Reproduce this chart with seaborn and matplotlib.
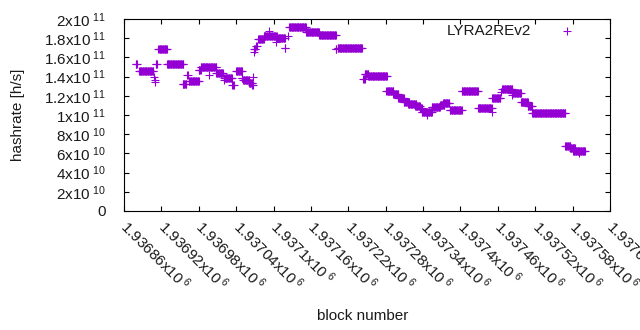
import numpy as np
import pandas as pd
import matplotlib
matplotlib.use("Agg")
import matplotlib.pyplot as plt
import matplotlib.transforms as mtransforms
import seaborn as sns

# ---- data: runs of constant hashrate per block (start block, end block, value [1e11 h/s]) ----
run_start = [1936879, 1936884, 1936908, 1936909, 1936910, 1936911, 1936915, 1936929,
             1936954, 1936961, 1936964, 1936980, 1936983, 1936996, 1937008, 1937020,
             1937021, 1937034, 1937040, 1937049, 1937051, 1937061, 1937066, 1937067,
             1937068, 1937069, 1937072, 1937075, 1937084, 1937093, 1937094, 1937104,
             1937105, 1937118, 1937123, 1937125, 1937152, 1937173, 1937200, 1937203,
             1937244, 1937246, 1937252, 1937281, 1937292, 1937300, 1937309, 1937316,
             1937327, 1937335, 1937338, 1937346, 1937354, 1937367, 1937372, 1937383,
             1937402, 1937428, 1937450, 1937451, 1937465, 1937467, 1937482, 1937483,
             1937497, 1937508, 1937515, 1937568, 1937576, 1937581, 1937591]
run_end = [1936881, 1936907, 1936908, 1936909, 1936910, 1936913, 1936929, 1936955,
           1936960, 1936962, 1936980, 1936983, 1937008, 1936996, 1937019, 1937020,
           1937033, 1937036, 1937049, 1937050, 1937061, 1937066, 1937067, 1937067,
           1937068, 1937071, 1937073, 1937084, 1937092, 1937093, 1937105, 1937104,
           1937118, 1937119, 1937123, 1937152, 1937173, 1937200, 1937201, 1937242,
           1937246, 1937252, 1937282, 1937292, 1937300, 1937309, 1937318, 1937329,
           1937335, 1937338, 1937354, 1937346, 1937367, 1937374, 1937382, 1937402,
           1937428, 1937450, 1937450, 1937464, 1937465, 1937483, 1937482, 1937497,
           1937508, 1937515, 1937568, 1937576, 1937584, 1937600, 1937591]
run_value = [1.53, 1.46, 1.40, 1.365, 1.34, 1.53, 1.685, 1.53,
             1.32, 1.42, 1.355, 1.47, 1.495, 1.42, 1.44, 1.36,
             1.385, 1.31, 1.46, 1.39, 1.365, 1.33, 1.31, 1.40,
             1.66, 1.69, 1.72, 1.79, 1.82, 1.875, 1.82, 1.76,
             1.80, 1.70, 1.82, 1.915, 1.865, 1.833, 1.69, 1.703,
             1.38, 1.43, 1.41, 1.25, 1.215, 1.177, 1.14, 1.115,
             1.094, 1.07, 1.031, 1.00, 1.08, 1.10, 1.12, 1.052,
             1.25, 1.068, 1.03, 1.177, 1.24, 1.276, 1.21, 1.224,
             1.14, 1.09, 1.026, 0.682, 0.66, 0.63, 0.60]

x_ticks = [1936860, 1936920, 1936980, 1937040, 1937100, 1937160, 1937220,
           1937280, 1937340, 1937400, 1937460, 1937520, 1937580, 1937640]
x_ticklabels = ["1.93686", "1.93692", "1.93698", "1.93704", "1.9371", "1.93716", "1.93722",
                "1.93728", "1.93734", "1.9374", "1.93746", "1.93752", "1.93758", "1.93764"]
y_ticks = [0, 2e10, 4e10, 6e10, 8e10, 1e11, 1.2e11, 1.4e11, 1.6e11, 1.8e11, 2e11]
y_mant = ["0", "2", "4", "6", "8", "1", "1.2", "1.4", "1.6", "1.8", "2"]
y_exp = [None, "10", "10", "10", "10", "11", "11", "11", "11", "11", "11"]

series_name = "LYRA2REv2"
color = "#9400D3"

# expand runs into per-block points
blocks, values = [], []
for s, e, v in zip(run_start, run_end, run_value):
    for b in range(s, e + 1):
        blocks.append(b)
        values.append(v * 1e11)
df = pd.DataFrame({"block": blocks, "hashrate": values})

sns.set_style("white")
plt.rcParams["font.family"] = ["Liberation Sans", "DejaVu Sans"]
plt.rcParams["mathtext.fontset"] = "custom"
plt.rcParams["mathtext.rm"] = "Liberation Sans"
plt.rcParams["mathtext.it"] = "Liberation Sans"
plt.rcParams["mathtext.bf"] = "Liberation Sans"

fig = plt.figure(figsize=(6.4, 3.3), dpi=100)
ax = fig.add_axes([124 / 640, 1 - 211 / 330, 486 / 640, 192 / 330])

sns.scatterplot(data=df, x="block", y="hashrate", marker="+", s=26, linewidth=0.8,
                color=color, ax=ax, label=series_name)

ax.set_xlim(x_ticks[0], x_ticks[-1])
ax.set_ylim(0, 2e11)
ax.set_xticks(x_ticks)
ax.set_xticklabels([l + r"x10$^{\ 6}$" for l in x_ticklabels], fontsize=11,
                   rotation=-45, ha="left", va="center", rotation_mode="anchor")
ax.set_yticks(y_ticks)
ax.set_yticklabels([m if e is None else m + r"x10$^{\ " + e + "}$" for m, e in zip(y_mant, y_exp)],
                   fontsize=11)

offset = mtransforms.ScaledTranslation(3 / 72, -1.5 / 72, fig.dpi_scale_trans)
for lab in ax.get_xticklabels():
    lab.set_transform(lab.get_transform() + offset)

for sp in ax.spines.values():
    sp.set_visible(True)
    sp.set_color("black")
    sp.set_linewidth(0.8)

ax.tick_params(axis="both", direction="in", length=3.5, width=0.8, color="black",
               top=True, right=True, bottom=True, left=True, labelcolor="#1a1a1a")
ax.tick_params(axis="y", pad=13)
ax.tick_params(axis="x", pad=9)

ax.set_xlabel("block number", fontsize=11, color="#1a1a1a")
ax.set_ylabel("hashrate [h/s]", fontsize=11, color="#1a1a1a")
ax.xaxis.set_label_coords((363 - 124) / 486, (211 - 316) / 192)
ax.xaxis.label.set_va("center")
ax.yaxis.set_label_coords((18 - 124) / 486, 0.5)
ax.yaxis.label.set_va("center")

ax.legend(loc="center right", bbox_to_anchor=(582 / 640, 1 - 31 / 330),
          bbox_transform=fig.transFigure, frameon=False, markerfirst=False,
          handletextpad=1.3, handlelength=2, borderpad=0, borderaxespad=0,
          fontsize=11, labelcolor="#1a1a1a")

fig.savefig("out.png", dpi=100)
